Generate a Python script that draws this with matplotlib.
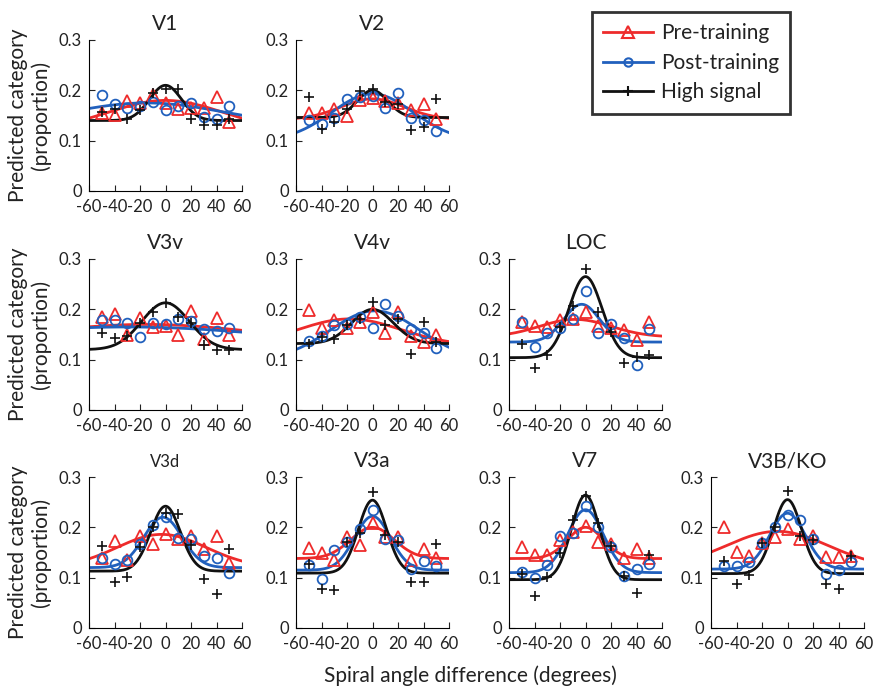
import numpy as np
import matplotlib
matplotlib.use("Agg")
import matplotlib.pyplot as plt
from matplotlib.lines import Line2D

plt.rcParams['font.family'] = ['Lato', 'DejaVu Sans']

angles = [-50, -40, -30, -20, -10, 0, 10, 20, 30, 40, 50]
regions = ["V1", "V2", "V3v", "V4v", "LOC", "V3d", "V3a", "V7", "V3B/KO"]

pre = {
    "V1":     [0.155, 0.150, 0.178, 0.175, 0.190, 0.175, 0.162, 0.165, 0.165, 0.187, 0.138],
    "V2":     [0.155, 0.155, 0.162, 0.149, 0.180, 0.185, 0.178, 0.175, 0.160, 0.172, 0.144],
    "V3v":    [0.185, 0.190, 0.149, 0.182, 0.164, 0.167, 0.149, 0.197, 0.142, 0.182, 0.149],
    "V4v":    [0.199, 0.162, 0.179, 0.162, 0.175, 0.195, 0.153, 0.195, 0.147, 0.135, 0.149],
    "LOC":    [0.175, 0.167, 0.165, 0.179, 0.181, 0.195, 0.167, 0.162, 0.159, 0.139, 0.175],
    "V3d":    [0.140, 0.173, 0.135, 0.182, 0.167, 0.187, 0.177, 0.182, 0.157, 0.182, 0.129],
    "V3a":    [0.159, 0.149, 0.135, 0.181, 0.164, 0.209, 0.180, 0.181, 0.135, 0.157, 0.140],
    "V7":     [0.161, 0.145, 0.145, 0.175, 0.190, 0.203, 0.170, 0.167, 0.139, 0.157, 0.140],
    "V3B/KO": [0.200, 0.151, 0.144, 0.168, 0.180, 0.197, 0.177, 0.183, 0.141, 0.141, 0.144],
}
post = {
    "V1":     [0.190, 0.172, 0.165, 0.169, 0.176, 0.161, 0.169, 0.175, 0.147, 0.144, 0.169],
    "V2":     [0.142, 0.133, 0.145, 0.182, 0.187, 0.189, 0.164, 0.195, 0.146, 0.142, 0.119],
    "V3v":    [0.179, 0.179, 0.172, 0.145, 0.172, 0.171, 0.180, 0.177, 0.160, 0.157, 0.162],
    "V4v":    [0.137, 0.147, 0.168, 0.171, 0.185, 0.163, 0.210, 0.187, 0.160, 0.152, 0.124],
    "LOC":    [0.175, 0.125, 0.152, 0.162, 0.181, 0.237, 0.152, 0.171, 0.144, 0.090, 0.160],
    "V3d":    [0.139, 0.127, 0.135, 0.167, 0.204, 0.220, 0.179, 0.177, 0.143, 0.139, 0.110],
    "V3a":    [0.125, 0.097, 0.154, 0.170, 0.197, 0.234, 0.177, 0.174, 0.117, 0.133, 0.123],
    "V7":     [0.112, 0.099, 0.125, 0.182, 0.189, 0.243, 0.201, 0.161, 0.103, 0.117, 0.127],
    "V3B/KO": [0.124, 0.123, 0.131, 0.168, 0.201, 0.224, 0.214, 0.176, 0.108, 0.115, 0.131],
}
high = {
    "V1":     [0.157, 0.162, 0.144, 0.161, 0.194, 0.202, 0.202, 0.144, 0.132, 0.132, 0.143],
    "V2":     [0.187, 0.124, 0.137, 0.162, 0.199, 0.202, 0.177, 0.173, 0.121, 0.127, 0.182],
    "V3v":    [0.152, 0.144, 0.147, 0.173, 0.195, 0.213, 0.185, 0.172, 0.129, 0.120, 0.120],
    "V4v":    [0.131, 0.145, 0.142, 0.168, 0.180, 0.215, 0.169, 0.181, 0.111, 0.175, 0.135],
    "LOC":    [0.131, 0.083, 0.110, 0.165, 0.207, 0.280, 0.194, 0.155, 0.093, 0.105, 0.109],
    "V3d":    [0.162, 0.092, 0.102, 0.161, 0.201, 0.229, 0.227, 0.165, 0.097, 0.067, 0.157],
    "V3a":    [0.127, 0.077, 0.075, 0.170, 0.189, 0.271, 0.185, 0.170, 0.092, 0.092, 0.167],
    "V7":     [0.107, 0.064, 0.102, 0.149, 0.215, 0.262, 0.209, 0.163, 0.103, 0.069, 0.145],
    "V3B/KO": [0.134, 0.088, 0.105, 0.169, 0.201, 0.273, 0.183, 0.174, 0.088, 0.078, 0.144],
}

# Gaussian fit parameters: (baseline, amplitude, centre, width)
pre_fit = {
    "V1": (0.120, 0.060, 0, 45), "V2": (0.142, 0.041, 0, 25), "V3v": (0.130, 0.040, -15, 90),
    "V4v": (0.128, 0.053, -18, 40), "LOC": (0.145, 0.035, -8, 28), "V3d": (0.120, 0.066, -3, 35),
    "V3a": (0.138, 0.062, 0, 17), "V7": (0.138, 0.062, 0, 14), "V3B/KO": (0.120, 0.072, -8, 40),
}
post_fit = {
    "V1": (0.130, 0.045, -15, 60), "V2": (0.100, 0.093, 0, 32), "V3v": (0.123, 0.042, -30, 120),
    "V4v": (0.100, 0.097, 2, 35), "LOC": (0.135, 0.075, -3, 14), "V3d": (0.120, 0.100, -2, 15),
    "V3a": (0.115, 0.107, 0, 14), "V7": (0.110, 0.125, 0, 14), "V3B/KO": (0.117, 0.111, 0, 14),
}
high_fit = {
    "V1": (0.140, 0.070, 0, 12.5), "V2": (0.146, 0.054, 0, 12), "V3v": (0.120, 0.093, 0, 18.6),
    "V4v": (0.132, 0.068, 0, 16.3), "LOC": (0.104, 0.161, 0, 13), "V3d": (0.113, 0.129, 0, 11.6),
    "V3a": (0.109, 0.145, 0, 11), "V7": (0.096, 0.168, 0, 11), "V3B/KO": (0.108, 0.147, 0, 11),
}

xticks = [-60, -40, -20, 0, 20, 40, 60]
yticks = [0, 0.1, 0.2, 0.3]

RED = '#ee2b2b'
BLUE = '#2160bd'
BLACK = '#111111'

W, H = 873, 688
fig = plt.figure(figsize=(W / 100, H / 100), dpi=100)

col_left = [89, 296, 509, 711]
row_top = [40, 259, 477]
aw, ah = 153, 151

layout = {
    "V1": (0, 0), "V2": (0, 1),
    "V3v": (1, 0), "V4v": (1, 1), "LOC": (1, 2),
    "V3d": (2, 0), "V3a": (2, 1), "V7": (2, 2), "V3B/KO": (2, 3),
}

xs = np.linspace(-60, 60, 241)

def gauss(p):
    b, a, m, s = p
    return b + a * np.exp(-(xs - m) ** 2 / (2 * s ** 2))

for reg in regions:
    r, c = layout[reg]
    ax = fig.add_axes([col_left[c] / W, 1 - (row_top[r] + ah) / H, aw / W, ah / H])
    ax.plot(xs, gauss(pre_fit[reg]), color=RED, lw=2)
    ax.plot(xs, gauss(post_fit[reg]), color=BLUE, lw=2)
    ax.plot(xs, gauss(high_fit[reg]), color=BLACK, lw=2)
    ax.plot(angles, pre[reg], ls='none', marker='^', ms=8, mfc='none', mec=RED, mew=1.3)
    ax.plot(angles, post[reg], ls='none', marker='o', ms=7, mfc='none', mec=BLUE, mew=1.3)
    ax.plot(angles, high[reg], ls='none', marker='+', ms=7, color=BLACK, mew=1.2)
    ax.set_xlim(-60, 60)
    ax.set_ylim(0, 0.3)
    ax.set_xticks(xticks)
    ax.set_yticks(yticks)
    ax.set_xticklabels([str(t) for t in xticks])
    ax.set_yticklabels(['0', '0.1', '0.2', '0.3'])
    ax.tick_params(direction='in', length=4, width=0.8, labelsize=12, colors='#222222')
    ax.tick_params(axis='x', pad=6)
    ax.tick_params(axis='y', pad=5)
    for s in ['top', 'right']:
        ax.spines[s].set_visible(False)
    for s in ['left', 'bottom']:
        ax.spines[s].set_linewidth(0.8)
    ax.set_title(reg, fontsize=12 if reg == "V3d" else 15, pad=7, color='#222222')
    if c == 0:
        ax.set_ylabel("Predicted category\n(proportion)", fontsize=15, labelpad=6,
                      color='#222222', linespacing=1.1)

fig.text(470 / W, 1 - 676 / H, "Spiral angle difference (degrees)", ha='center', va='center',
         fontsize=15, color='#222222')

handles = [
    Line2D([], [], color=RED, lw=2, marker='^', ms=8, mfc='none', mec=RED, mew=1.5),
    Line2D([], [], color=BLUE, lw=2, marker='o', ms=6, mfc='none', mec=BLUE, mew=1.5),
    Line2D([], [], color=BLACK, lw=2, marker='+', ms=7, mew=1.5),
]
leg = fig.legend(handles, ["Pre-training", "Post-training", "High signal"],
                 loc='upper left', bbox_to_anchor=(592 / W, 1 - 12 / H), fontsize=15,
                 frameon=True, fancybox=False, edgecolor='black', handlelength=2.4,
                 borderpad=0.55, labelspacing=0.45, handletextpad=0.35, borderaxespad=0)
leg.get_frame().set_linewidth(2)
for t in leg.get_texts():
    t.set_color('#222222')

fig.savefig("out.png", dpi=100)
